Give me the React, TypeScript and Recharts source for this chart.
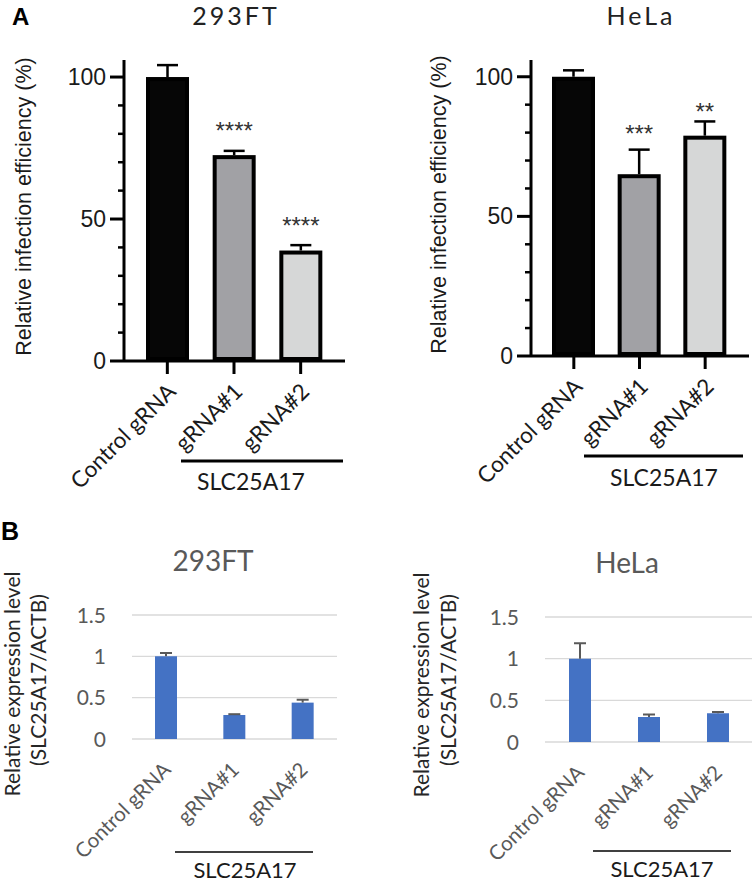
import React from 'react';
import { BarChart, Bar, XAxis, YAxis, CartesianGrid, LabelList } from 'recharts';

// ---------- data ----------
const categories = ['Control gRNA', 'gRNA#1', 'gRNA#2'];

// Panel A: relative infection efficiency (%)
const infection293FT = [100, 72.5, 38.9];
const infection293FTErr = [4.2, 1.5, 1.9];
const infection293FTSig = ['', '****', '****'];
const infectionHeLa = [100, 65.1, 78.9];
const infectionHeLaErr = [2.3, 8.8, 5.1];
const infectionHeLaSig = ['', '***', '**'];
const infectionTicks = [0, 10, 20, 30, 40, 50, 60, 70, 80, 90, 100];
const infectionLabelTicks = [0, 50, 100];
const infectionMax = 106;

// Panel B: relative expression level (SLC25A17/ACTB)
const expression293FT = [1.0, 0.29, 0.44];
const expression293FTErr = [0.04, 0.01, 0.035];
const expressionHeLa = [1.0, 0.3, 0.345];
const expressionHeLaErr = [0.185, 0.03, 0.015];
const expressionTicks = [0, 0.5, 1, 1.5];
const expressionMax = 1.5;

const groupLabel = 'SLC25A17';

const rows = (vals: number[], errs: number[], sig?: string[]) =>
  categories.map((name, i) => ({ name, value: vals[i], err: errs[i], sig: sig ? sig[i] : '' }));

// ---------- styles ----------
const ARIAL = '"Liberation Sans", Arial, sans-serif';
const CAL = 'Lato, "Open Sans", sans-serif';
const aFills = ['#060606', '#a1a1a5', '#d6d7d7'];

const InfYTick = (props: any) => {
  const { x, y, payload } = props;
  const major = infectionLabelTicks.includes(payload.value);
  return (
    <g>
      <line x1={x - (major ? 14 : 6)} x2={x} y1={y} y2={y} stroke="#000" strokeWidth={major ? 3 : 2.5} />
      {major && (
        <text x={x - 18} y={y + 8} textAnchor="end" fontFamily={ARIAL} fontSize={23} fill="#1a1a1a">
          {payload.value}
        </text>
      )}
    </g>
  );
};

const InfXTick = (props: any) => {
  const { x, y, payload } = props;
  const ax = x + 10;
  const ay = y + 32;
  return (
    <g>
      <line x1={x} x2={x} y1={y} y2={y + 13} stroke="#000" strokeWidth={3} />
      <text x={ax} y={ay} transform={`rotate(-45 ${ax} ${ay})`} textAnchor="end" fontFamily={CAL} fontSize={22.5} fill="#1a1a1a">
        {payload.value}
      </text>
    </g>
  );
};

const ExpYTick = (props: any) => {
  const { x, y, payload } = props;
  return (
    <text x={x - 26} y={y + 7.5} textAnchor="end" fontFamily={CAL} fontSize={21} fill="#595959">
      {payload.value}
    </text>
  );
};

const ExpXTick = (props: any) => {
  const { x, y, payload } = props;
  const ax = x + 6;
  const ay = y + 32;
  return (
    <text x={ax} y={ay} transform={`rotate(-45 ${ax} ${ay})`} textAnchor="end" fontFamily={CAL} fontSize={20.5} fill="#595959">
      {payload.value}
    </text>
  );
};

const OutlinedBar = (props: any) => {
  const { x, y, width, height, index } = props;
  if (!height || height <= 0) return null;
  const sw = 4;
  return (
    <rect x={x + sw / 2} y={y + sw / 2} width={width - sw} height={height - sw} fill={aFills[index ?? 0]} stroke="#000" strokeWidth={sw} />
  );
};

const makeErrShape = (capW: number, color: string, sw: number) => (props: any) => {
  const { x, y, width, height } = props;
  if (height == null) return null;
  const cx = x + width / 2;
  return (
    <g>
      <line x1={cx} x2={cx} y1={y + height} y2={y} stroke={color} strokeWidth={sw} />
      <line x1={cx - capW / 2} x2={cx + capW / 2} y1={y} y2={y} stroke={color} strokeWidth={sw} />
    </g>
  );
};

const makeStar = (offsets: number[]) => (props: any) => {
  const vb = props.viewBox || props;
  const x = vb.x ?? props.x;
  const y = vb.y ?? props.y;
  const width = vb.width ?? props.width;
  const { value, index } = props;
  if (!value) return null;
  const cy = y - offsets[index ?? 0];
  return (
    <text x={x + width / 2} y={cy + 14} textAnchor="middle" fontFamily={ARIAL} fontSize={24} fill="#333">
      {value}
    </text>
  );
};

type InfProps = {
  data: any[];
  width: number;
  height: number;
  top: number;
  right: number;
  bottom: number;
  yWidth: number;
  xHeight: number;
  pad: { left: number; right: number };
  starOffsets: number[];
};

const InfectionChart = ({ data, width, height, top, right, bottom, yWidth, xHeight, pad, starOffsets }: InfProps) => (
  <BarChart width={width} height={height} data={data} margin={{ top, right, bottom, left: 0 }}>
    <XAxis
      dataKey="name"
      interval={0}
      height={xHeight}
      padding={pad}
      axisLine={{ stroke: '#000', strokeWidth: 3 }}
      tickLine={false}
      tickSize={0}
      tickMargin={0}
      tick={InfXTick}
    />
    <YAxis
      type="number"
      domain={[0, infectionMax]}
      ticks={infectionTicks}
      interval={0}
      width={yWidth}
      axisLine={{ stroke: '#000', strokeWidth: 3 }}
      tickLine={false}
      tickSize={0}
      tickMargin={0}
      tick={InfYTick}
    />
    <Bar dataKey="value" stackId="s" barSize={43} shape={OutlinedBar} isAnimationActive={false} />
    <Bar dataKey="err" stackId="s" barSize={43} shape={makeErrShape(21, '#000', 2.5)} isAnimationActive={false}>
      <LabelList dataKey="sig" content={makeStar(starOffsets)} />
    </Bar>
  </BarChart>
);

type ExpProps = {
  data: any[];
  width: number;
  height: number;
  top: number;
  right: number;
  yWidth: number;
  xHeight: number;
};

const ExpressionChart = ({ data, width, height, top, right, yWidth, xHeight }: ExpProps) => (
  <BarChart width={width} height={height} data={data} margin={{ top, right, bottom: 0, left: 0 }}>
    <CartesianGrid vertical={false} stroke="#d9d9d9" strokeWidth={1.4} />
    <XAxis dataKey="name" interval={0} height={xHeight} axisLine={false} tickLine={false} tickSize={0} tickMargin={0} tick={ExpXTick} />
    <YAxis
      type="number"
      domain={[0, expressionMax]}
      ticks={expressionTicks}
      interval={0}
      width={yWidth}
      axisLine={false}
      tickLine={false}
      tickSize={0}
      tickMargin={0}
      tick={ExpYTick}
    />
    <Bar dataKey="value" stackId="s" barSize={22} fill="#4472c4" isAnimationActive={false} />
    <Bar dataKey="err" stackId="s" barSize={22} shape={makeErrShape(12, '#595959', 2)} isAnimationActive={false} />
  </BarChart>
);

const abs = (left: number, top: number): React.CSSProperties => ({ position: 'absolute', left, top });

export default function App() {
  return (
    <div style={{ position: 'absolute', left: 0, top: 0, width: 755, height: 884, background: '#fff', overflow: 'hidden' }}>
      <div style={abs(0, 0)}>
        <InfectionChart
          data={rows(infection293FT, infection293FTErr, infection293FTSig)}
          width={360}
          height={520}
          top={60}
          right={15}
          bottom={40}
          yWidth={124}
          xHeight={119}
          pad={{ left: 10, right: 11 }}
          starOffsets={[0, 26, 25]}
        />
      </div>
      <div style={abs(380, 0)}>
        <InfectionChart
          data={rows(infectionHeLa, infectionHeLaErr, infectionHeLaSig)}
          width={375}
          height={520}
          top={60}
          right={6}
          bottom={40}
          yWidth={151}
          xHeight={124}
          pad={{ left: 10, right: 11 }}
          starOffsets={[0, 22, 15]}
        />
      </div>
      <div style={abs(0, 480)}>
        <ExpressionChart data={rows(expression293FT, expression293FTErr)} width={360} height={404} top={135} right={23} yWidth={132} xHeight={145} />
      </div>
      <div style={abs(380, 480)}>
        <ExpressionChart data={rows(expressionHeLa, expressionHeLaErr)} width={375} height={404} top={137} right={3} yWidth={165} xHeight={142} />
      </div>

      <svg width={755} height={884} style={{ position: 'absolute', left: 0, top: 0, pointerEvents: 'none' }}>
        {/* panel letters */}
        <text x={12} y={25} fontFamily={ARIAL} fontWeight="bold" fontSize={24} fill="#000">A</text>
        <text x={1} y={540} fontFamily={ARIAL} fontWeight="bold" fontSize={25} fill="#000">B</text>

        {/* panel A titles */}
        <text x={236} y={25} textAnchor="middle" fontFamily={CAL} fontSize={25} letterSpacing={3} fill="#222">293FT</text>
        <text x={641} y={25} textAnchor="middle" fontFamily={CAL} fontSize={25} letterSpacing={3} fill="#222">HeLa</text>

        {/* panel A y labels */}
        <text x={31} y={206.5} transform="rotate(-90 31 206.5)" textAnchor="middle" fontFamily={ARIAL} fontSize={21.5} fill="#1a1a1a">
          Relative infection efficiency (%)
        </text>
        <text x={446} y={204.5} transform="rotate(-90 446 204.5)" textAnchor="middle" fontFamily={ARIAL} fontSize={21.5} fill="#1a1a1a">
          Relative infection efficiency (%)
        </text>

        {/* panel A brackets */}
        <line x1={181} x2={343} y1={461} y2={461} stroke="#000" strokeWidth={3} />
        <text x={251} y={490} textAnchor="middle" fontFamily={CAL} fontSize={23} fill="#1a1a1a">{groupLabel}</text>
        <line x1={584} x2={743} y1={456} y2={456} stroke="#000" strokeWidth={3} />
        <text x={664} y={486} textAnchor="middle" fontFamily={CAL} fontSize={23} fill="#1a1a1a">{groupLabel}</text>

        {/* panel B titles */}
        <text x={213} y={571} textAnchor="middle" fontFamily={CAL} fontSize={28} fill="#595959">293FT</text>
        <text x={627} y={573} textAnchor="middle" fontFamily={CAL} fontSize={28} fill="#595959">HeLa</text>

        {/* panel B y labels */}
        <text x={20} y={684} transform="rotate(-90 20 684)" textAnchor="middle" fontFamily={CAL} fontSize={21} fill="#262626">
          Relative expression level
        </text>
        <text x={46} y={680} transform="rotate(-90 46 680)" textAnchor="middle" fontFamily={CAL} fontSize={21} fill="#262626">
          (SLC25A17/ACTB)
        </text>
        <text x={429} y={685} transform="rotate(-90 429 685)" textAnchor="middle" fontFamily={CAL} fontSize={21} fill="#262626">
          Relative expression level
        </text>
        <text x={456} y={680} transform="rotate(-90 456 680)" textAnchor="middle" fontFamily={CAL} fontSize={21} fill="#262626">
          (SLC25A17/ACTB)
        </text>

        {/* panel B brackets */}
        <line x1={175} x2={313} y1={852} y2={852} stroke="#000" strokeWidth={1.5} />
        <text x={245} y={878} textAnchor="middle" fontFamily={CAL} fontSize={22} fill="#1a1a1a">{groupLabel}</text>
        <line x1={593} x2={731} y1={851} y2={851} stroke="#000" strokeWidth={1.5} />
        <text x={662} y={877} textAnchor="middle" fontFamily={CAL} fontSize={22} fill="#1a1a1a">{groupLabel}</text>
      </svg>
    </div>
  );
}
